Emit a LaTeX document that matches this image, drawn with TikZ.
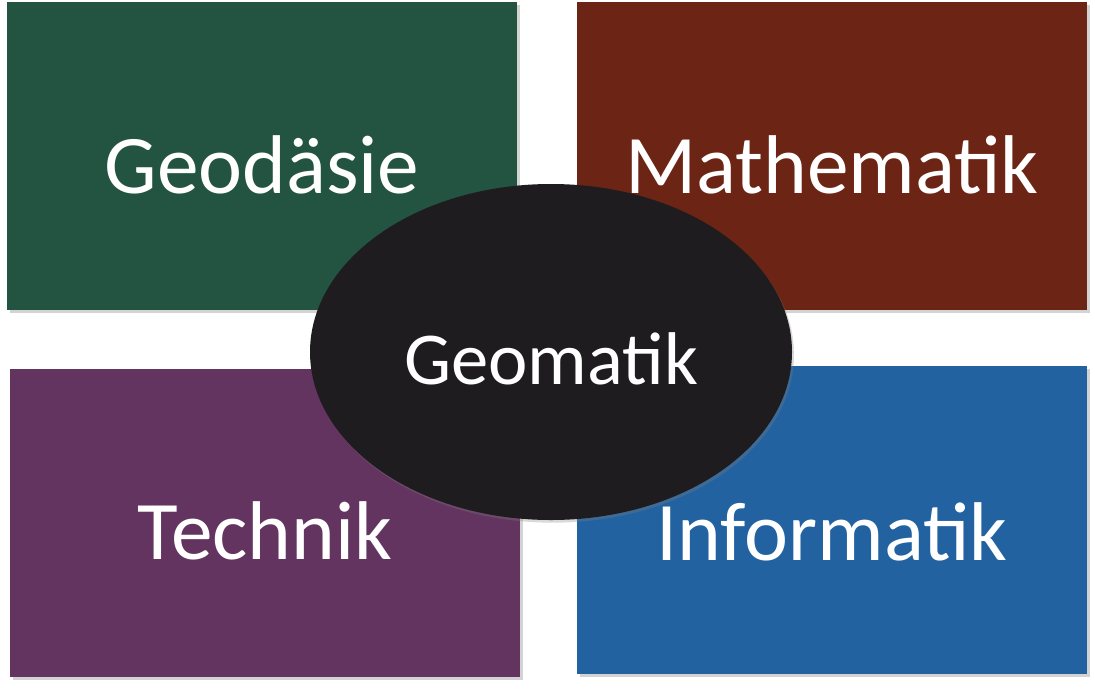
\documentclass[tikz,border=0pt]{standalone}
\usepackage{fontspec}
\setmainfont{Carlito}
\usepackage{xcolor}
\usetikzlibrary{shapes.geometric, shadows}

\definecolor{geogreen}{RGB}{35,84,66}
\definecolor{mathbrown}{RGB}{108,36,20}
\definecolor{techpurple}{RGB}{99,52,96}
\definecolor{infoblue}{RGB}{34,98,160}
\definecolor{coreblack}{RGB}{30,28,31}

\begin{document}
\begin{tikzpicture}[
    x=0.75pt, y=-0.75pt,
    field/.style={rectangle, minimum width=382.5pt, minimum height=231pt, inner sep=0pt,
        drop shadow={shadow xshift=2pt, shadow yshift=-2.5pt, opacity=0.35, fill=black!50}},
    fieldtext/.style={text=white, inner sep=0pt, font=\fontsize{62.5}{75}\selectfont},
    core/.style={ellipse, fill=coreblack, minimum width=361.5pt, minimum height=252pt, inner sep=0pt,
        drop shadow={shadow xshift=1.5pt, shadow yshift=-2pt, opacity=0.3, fill=black!50}},
    coretext/.style={text=white, inner sep=0pt, font=\fontsize{56}{67}\selectfont}
]

\useasboundingbox (0,0) rectangle (1095,689);

\node (geo)  [field, fill=geogreen]   at (262,156) {};
\node (math) [field, fill=mathbrown]  at (832,156) {};
\node (tech) [field, fill=techpurple] at (265,523) {};
\node (info) [field, fill=infoblue]   at (832,520) {};

\node (geot)  [fieldtext] at ([yshift=-7pt]geo.center)  {Geodäsie};
\node (matht) [fieldtext] at ([yshift=-7pt]math.center) {Mathematik};
\node (techt) [fieldtext] at ([yshift=-6pt]tech.center) {Technik};
\node (infot) [fieldtext] at ([yshift=-9pt]info.center) {Informatik};

\node (gm) [core] at (551,352) {};
\node (gmt) [coretext] at ([yshift=-5pt]gm.center) {Geomatik};

\end{tikzpicture}
\end{document}
